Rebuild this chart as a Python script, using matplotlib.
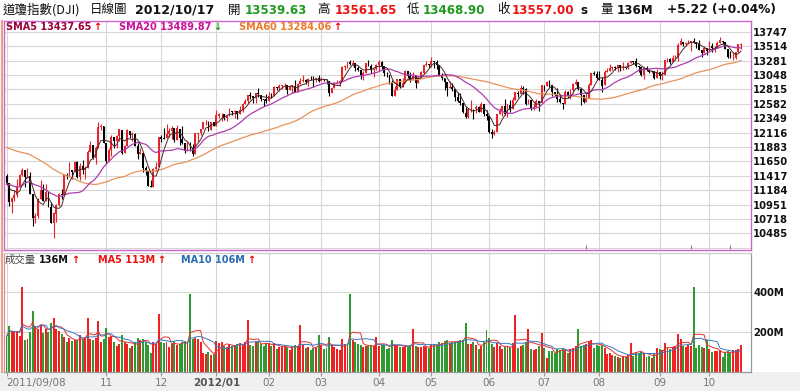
import matplotlib
matplotlib.use("Agg")
import matplotlib.pyplot as plt
import numpy as np
import pandas as pd
from matplotlib.lines import Line2D
from matplotlib.patches import Rectangle

# ---------------- data ----------------
trading_days = {
    "2011-09": [8, 9, 12, 13, 14, 15, 16, 19, 20, 21, 22, 23, 26, 27, 28, 29, 30],
    "2011-10": [3, 4, 5, 6, 7, 10, 11, 12, 13, 14, 17, 18, 19, 20, 21, 24, 25, 26, 27, 28, 31],
    "2011-11": [1, 2, 3, 4, 7, 8, 9, 10, 11, 14, 15, 16, 17, 18, 21, 22, 23, 25, 28, 29, 30],
    "2011-12": [1, 2, 5, 6, 7, 8, 9, 12, 13, 14, 15, 16, 19, 20, 21, 22, 23, 27, 28, 29, 30],
    "2012-01": [3, 4, 5, 6, 9, 10, 11, 12, 13, 17, 18, 19, 20, 23, 24, 25, 26, 27, 30, 31],
    "2012-02": [1, 2, 3, 6, 7, 8, 9, 10, 13, 14, 15, 16, 17, 21, 22, 23, 24, 27, 28, 29],
    "2012-03": [1, 2, 5, 6, 7, 8, 9, 12, 13, 14, 15, 16, 19, 20, 21, 22, 23, 26, 27, 28, 29, 30],
    "2012-04": [2, 3, 4, 5, 9, 10, 11, 12, 13, 16, 17, 18, 19, 20, 23, 24, 25, 26, 27, 30],
    "2012-05": [1, 2, 3, 4, 7, 8, 9, 10, 11, 14, 15, 16, 17, 18, 21, 22, 23, 24, 25, 29, 30, 31],
    "2012-06": [1, 4, 5, 6, 7, 8, 11, 12, 13, 14, 15, 18, 19, 20, 21, 22, 25, 26, 27, 28, 29],
    "2012-07": [2, 3, 5, 6, 9, 10, 11, 12, 13, 16, 17, 18, 19, 20, 23, 24, 25, 26, 27, 30, 31],
    "2012-08": [1, 2, 3, 6, 7, 8, 9, 10, 13, 14, 15, 16, 17, 20, 21, 22, 23, 24, 27, 28, 29, 30, 31],
    "2012-09": [4, 5, 6, 7, 10, 11, 12, 13, 14, 17, 18, 19, 20, 21, 24, 25, 26, 27, 28],
    "2012-10": [1, 2, 3, 4, 5, 8, 9, 10, 11, 12, 15, 16, 17],
}
dates = [f"{ym}-{d:02d}" for ym, days in trading_days.items() for d in days]

# closes of the 62 sessions before the first bar (for the moving averages)
warmup_closes = [
    11951.91, 11952.97, 12076.11, 11897.27, 11961.52, 12004.36, 12080.38, 12190.01, 12109.67, 12050.00,
    11934.58, 12043.56, 12188.69, 12261.42, 12414.34,
    12582.77, 12569.87, 12626.02, 12719.49, 12657.20, 12505.76, 12446.88, 12491.61, 12437.12, 12479.73,
    12385.16, 12587.42, 12571.91, 12724.41, 12681.16, 12592.80, 12501.30, 12302.55, 12240.11, 12143.24,
    12132.49, 11866.62, 11896.44, 11383.68, 11444.61, 10809.85, 11239.77, 10719.94, 11143.31, 11269.02,
    11482.90, 11405.93, 11410.21, 10990.58, 10817.65, 10854.65, 11176.76, 11320.71, 11149.82, 11284.54,
    11539.25, 11559.95, 11613.53,
    11493.57, 11240.26, 11139.30, 11414.86,
]

opens = [
    11414, 11293, 10989, 11061, 11106, 11247, 11433, 11508, 11401, 11408, 11120, 10733, 10771, 11045, 11190, 11011, 11152,
    10912, 10650, 10804, 10939, 11123, 11104, 11432, 11418, 11517, 11479, 11640, 11397, 11576, 11503, 11543, 11808, 11911, 11710, 11872, 12207, 12229,
    11955, 11659, 11838, 12040, 11982, 12068, 12165, 11783, 11897, 12150, 12077, 12094, 11903, 11771, 11792, 11543, 11490, 11257, 11235, 11520, 11559,
    12045, 12021, 12021, 12097, 12148, 12194, 11998, 12181, 12019, 11951, 11826, 11869, 11867, 11769, 12102, 12107, 12170, 12291, 12291, 12151, 12286,
    12221, 12392, 12413, 12415, 12360, 12393, 12459, 12449, 12470, 12422, 12481, 12578, 12623, 12720, 12707, 12674, 12758, 12733, 12660, 12654,
    12632, 12717, 12705, 12860, 12845, 12878, 12884, 12888, 12801, 12874, 12878, 12782, 12904, 12950, 12964, 12937, 12984, 12982, 12982, 13005,
    12952, 12980, 12977, 12958, 12759, 12838, 12908, 12920, 12960, 13178, 13193, 13253, 13233, 13238, 13171, 13124, 13046, 13081, 13241, 13197, 13124, 13146,
    13211, 13263, 13198, 13074, 13057, 12929, 12716, 12806, 12984, 12851, 12922, 13115, 13032, 12966, 13027, 12928, 13002, 13089, 13206, 13228,
    13214, 13279, 13268, 13206, 13038, 13007, 12932, 12835, 12854, 12820, 12694, 12632, 12599, 12441, 12371, 12502, 12500, 12496, 12529, 12456, 12580, 12419,
    12391, 12119, 12101, 12128, 12415, 12461, 12555, 12411, 12571, 12497, 12651, 12765, 12743, 12837, 12824, 12574, 12640, 12502, 12535, 12626, 12603,
    12879, 12871, 12942, 12895, 12772, 12736, 12653, 12604, 12573, 12774, 12727, 12805, 12909, 12941, 12822, 12720, 12616, 12677, 12888, 13075, 13072,
    13009, 12974, 12881, 13096, 13117, 13167, 13175, 13163, 13207, 13170, 13172, 13165, 13251, 13274, 13272, 13203, 13172, 13057, 13158, 13124, 13103, 13107, 13002,
    13092, 13036, 13045, 13292, 13306, 13254, 13323, 13329, 13540, 13591, 13552, 13565, 13575, 13597, 13577, 13559, 13456, 13413, 13486,
    13437, 13516, 13483, 13495, 13569, 13594, 13582, 13473, 13346, 13326, 13329, 13425, 13539.63,
]

highs = [
    11439, 11297, 11078, 11186, 11361, 11443, 11544, 11508, 11545, 11475, 11120, 10820, 11051, 11353, 11289, 11290, 11152,
    10985, 10827, 10964, 11131, 11199, 11433, 11468, 11632, 11518, 11649, 11661, 11624, 11675, 11574, 11834, 11981, 11911, 11892, 12284, 12251, 12229,
    11955, 11861, 12071, 12040, 12080, 12176, 12165, 11918, 12181, 12150, 12122, 12112, 11955, 11865, 11792, 11571, 11490, 11356, 11543, 11637, 12046,
    12070, 12187, 12261, 12188, 12231, 12194, 12237, 12181, 12221, 11951, 11969, 11968, 11928, 12112, 12118, 12180, 12294, 12325, 12304, 12291, 12293,
    12479, 12430, 12434, 12416, 12396, 12517, 12468, 12486, 12470, 12546, 12589, 12657, 12721, 12780, 12708, 12764, 12841, 12733, 12660, 12747,
    12778, 12753, 12876, 12860, 12905, 12891, 12914, 12888, 12882, 12887, 12976, 12922, 13005, 13055, 12979, 12998, 13028, 13027, 13023, 13054,
    13020, 12993, 12984, 12958, 12847, 12942, 12970, 12963, 13194, 13211, 13253, 13289, 13290, 13238, 13198, 13124, 13107, 13241, 13285, 13228, 13155, 13228,
    13297, 13280, 13198, 13097, 13057, 12962, 12867, 12987, 12984, 12996, 13128, 13120, 13091, 13100, 13027, 13039, 13116, 13214, 13269, 13228,
    13338, 13279, 13297, 13206, 13086, 13007, 12932, 12946, 12926, 12820, 12778, 12757, 12602, 12529, 12504, 12637, 12500, 12560, 12541, 12608, 12580, 12489,
    12391, 12170, 12160, 12415, 12515, 12555, 12668, 12574, 12647, 12693, 12767, 12792, 12889, 12876, 12834, 12665, 12640, 12591, 12653, 12626, 12880,
    12884, 12952, 12967, 12895, 12772, 12841, 12717, 12604, 12800, 12784, 12826, 12915, 12984, 12941, 12822, 12721, 12763, 12917, 13075, 13116, 13110,
    13107, 13014, 13139, 13167, 13228, 13193, 13202, 13208, 13207, 13257, 13187, 13265, 13281, 13279, 13330, 13203, 13172, 13185, 13201, 13152, 13135, 13107, 13148,
    13092, 13111, 13294, 13320, 13332, 13370, 13373, 13573, 13653, 13591, 13581, 13618, 13598, 13647, 13582, 13620, 13456, 13522, 13486,
    13597, 13567, 13513, 13595, 13661, 13606, 13582, 13478, 13439, 13421, 13428, 13553, 13561.65,
]

lows = [
    11286, 10933, 10820, 11012, 11072, 11230, 11408, 11242, 11383, 11115, 10597, 10656, 10731, 11045, 11005, 11011, 10903,
    10653, 10404, 10661, 10933, 11041, 11104, 11359, 11418, 11358, 11479, 11387, 11346, 11444, 11362, 11543, 11808, 11686, 11612, 11872, 12154, 11955,
    11627, 11659, 11735, 11866, 11867, 11977, 11767, 11783, 11897, 12024, 11978, 11898, 11689, 11768, 11482, 11422, 11257, 11231, 11235, 11494, 11559,
    11960, 12012, 12021, 12044, 12017, 11966, 11998, 11919, 11929, 11785, 11826, 11825, 11735, 11769, 11969, 12070, 12170, 12245, 12138, 12151, 12217,
    12221, 12346, 12301, 12328, 12310, 12393, 12398, 12355, 12334, 12422, 12456, 12578, 12589, 12658, 12598, 12599, 12696, 12622, 12548, 12599,
    12632, 12681, 12705, 12803, 12786, 12826, 12824, 12745, 12801, 12757, 12771, 12767, 12904, 12930, 12905, 12877, 12962, 12861, 12938, 12935,
    12952, 12949, 12912, 12711, 12759, 12838, 12907, 12878, 12955, 13124, 13169, 13216, 13195, 13118, 13117, 12990, 12974, 13081, 13193, 13086, 13018, 13128,
    13120, 13151, 13041, 13020, 12908, 12710, 12716, 12803, 12842, 12851, 12922, 13008, 12932, 12966, 12835, 12928, 13002, 13065, 13193, 13169,
    13186, 13162, 13155, 13035, 12964, 12802, 12710, 12835, 12788, 12632, 12616, 12569, 12441, 12355, 12360, 12457, 12341, 12428, 12446, 12456, 12384, 12327,
    12107, 12035, 12072, 12128, 12415, 12379, 12396, 12373, 12452, 12494, 12651, 12700, 12743, 12744, 12559, 12574, 12481, 12481, 12535, 12465, 12603,
    12786, 12871, 12856, 12708, 12711, 12617, 12600, 12492, 12573, 12685, 12658, 12753, 12891, 12810, 12568, 12591, 12616, 12677, 12888, 13046, 12993,
    12967, 12778, 12881, 13096, 13117, 13127, 13135, 13104, 13122, 13137, 13140, 13147, 13241, 13222, 13178, 13092, 13036, 12992, 13121, 13078, 13087, 12985, 13002,
    12977, 12976, 13045, 13266, 13231, 13254, 13285, 13282, 13533, 13512, 13517, 13557, 13442, 13562, 13484, 13456, 13343, 13413, 13367,
    13437, 13424, 13421, 13495, 13568, 13550, 13473, 13327, 13326, 13300, 13313, 13425, 13468.90,
]

closes = [
    11295.81, 10992.13, 11061.12, 11105.85, 11246.73, 11433.18, 11509.09, 11401.01, 11408.66, 11124.84, 10733.83, 10771.48, 11043.86, 11190.69, 11010.90, 11153.98, 10913.38,
    10655.30, 10808.71, 10939.95, 11123.33, 11103.12, 11433.18, 11416.30, 11518.85, 11478.13, 11644.49, 11397.00, 11577.05, 11504.62, 11541.78, 11808.79, 11913.62, 11706.62, 11869.04, 12208.55, 12231.11, 11955.01,
    11657.96, 11836.04, 12044.47, 11983.24, 12068.39, 12170.18, 11780.94, 11893.86, 12153.68, 12078.98, 12096.16, 11905.59, 11770.73, 11796.16, 11547.31, 11493.72, 11257.55, 11231.78, 11523.01, 11555.63, 12045.68,
    12020.03, 12019.42, 12097.83, 12150.13, 12196.37, 11997.70, 12184.26, 12021.39, 11954.94, 11823.48, 11868.81, 11866.39, 11766.26, 12103.58, 12107.74, 12169.65, 12294.00, 12291.35, 12151.41, 12287.04, 12217.56,
    12397.38, 12418.42, 12415.70, 12359.92, 12392.69, 12462.47, 12449.45, 12471.02, 12422.06, 12482.07, 12578.95, 12623.98, 12720.48, 12708.82, 12675.75, 12756.96, 12734.63, 12660.46, 12653.72, 12632.91,
    12716.46, 12705.41, 12862.23, 12845.13, 12878.20, 12883.95, 12890.46, 12801.23, 12874.04, 12878.28, 12780.95, 12904.08, 12949.87, 12965.69, 12938.67, 12984.69, 12982.95, 12981.20, 13005.12, 12952.07,
    12980.30, 12977.57, 12962.81, 12759.15, 12837.33, 12907.94, 12922.02, 12959.71, 13177.68, 13194.10, 13252.76, 13232.62, 13239.13, 13170.19, 13124.62, 13046.14, 13080.73, 13241.63, 13197.73, 13126.21, 13145.82, 13212.04,
    13264.49, 13199.55, 13074.75, 13060.14, 12929.59, 12715.93, 12805.39, 12986.58, 12849.59, 12921.41, 13115.54, 13032.75, 12964.10, 13029.26, 12927.17, 13001.56, 13090.72, 13204.62, 13228.31, 13213.63,
    13279.32, 13268.57, 13206.59, 13038.27, 13008.53, 12932.09, 12835.06, 12855.04, 12820.60, 12695.35, 12632.00, 12598.55, 12442.49, 12369.38, 12504.48, 12502.81, 12496.15, 12529.75, 12454.83, 12580.69, 12419.86, 12393.45,
    12118.57, 12101.46, 12127.95, 12414.79, 12460.96, 12554.20, 12411.23, 12573.80, 12496.38, 12651.91, 12767.17, 12741.82, 12837.33, 12824.39, 12573.57, 12640.78, 12502.66, 12534.67, 12627.01, 12602.26, 12880.09,
    12871.39, 12943.82, 12896.67, 12772.47, 12736.29, 12653.12, 12604.53, 12573.27, 12777.09, 12727.21, 12805.54, 12908.70, 12943.36, 12822.57, 12721.46, 12617.32, 12676.05, 12887.93, 13075.66, 13073.01, 13008.68,
    12976.13, 12878.88, 13096.17, 13117.51, 13168.60, 13175.64, 13165.19, 13207.95, 13169.43, 13172.14, 13164.78, 13250.11, 13275.20, 13271.64, 13203.58, 13172.76, 13057.46, 13157.97, 13124.67, 13102.99, 13107.48, 13000.71, 13090.84,
    13035.94, 13047.48, 13292.00, 13306.64, 13254.29, 13323.36, 13333.35, 13539.86, 13593.37, 13553.10, 13564.64, 13577.96, 13596.93, 13579.47, 13558.92, 13457.55, 13413.51, 13485.97, 13437.13,
    13515.11, 13482.36, 13494.61, 13575.36, 13610.15, 13583.65, 13473.53, 13344.97, 13326.39, 13328.85, 13424.23, 13551.78, 13557.00,
]

volumes = [  # millions
    178, 232, 203, 198, 200, 178, 425, 162, 165, 200, 308, 228, 215, 235, 195, 215, 200,
    245, 270, 215, 205, 190, 175, 150, 170, 155, 160, 160, 185, 165, 175, 268, 165, 160, 170, 257, 150, 165,
    220, 175, 180, 150, 130, 140, 185, 150, 140, 120, 130, 150, 170, 160, 165, 150, 135, 95, 150, 140, 292,
    150, 145, 150, 125, 140, 155, 135, 140, 150, 155, 150, 390, 165, 170, 165, 150, 95, 90, 100, 85, 90,
    155, 145, 150, 130, 125, 140, 130, 135, 140, 145, 140, 150, 258, 135, 130, 150, 155, 140, 130, 145,
    145, 130, 145, 115, 125, 125, 135, 125, 110, 125, 135, 130, 237, 135, 120, 125, 110, 120, 125, 187,
    135, 115, 120, 175, 135, 125, 115, 110, 165, 140, 140, 392, 160, 150, 140, 135, 125, 130, 130, 135, 130, 175,
    130, 135, 135, 115, 120, 160, 135, 130, 125, 125, 135, 125, 135, 215, 130, 125, 125, 130, 125, 120,
    140, 135, 135, 150, 145, 155, 160, 145, 150, 150, 155, 160, 160, 245, 140, 140, 150, 135, 115, 130, 150, 208,
    170, 140, 125, 145, 130, 115, 125, 125, 125, 145, 287, 120, 130, 135, 150, 215, 115, 110, 115, 130, 195,
    120, 70, 105, 105, 95, 115, 110, 120, 110, 95, 115, 120, 130, 215, 130, 135, 140, 150, 160, 120, 135,
    130, 135, 120, 90, 95, 85, 80, 75, 70, 80, 75, 85, 145, 80, 100, 95, 100, 95, 75, 80, 70, 90, 120,
    115, 110, 145, 125, 115, 125, 130, 190, 165, 130, 125, 135, 130, 428, 120, 135, 125, 120, 160,
    115, 100, 105, 105, 110, 75, 100, 105, 95, 108, 112, 114, 136,
]

price_ticks = [10485, 10718, 10951, 11184, 11417, 11650, 11883, 12116, 12349, 12582,
               12815, 13048, 13281, 13514, 13747]
price_grid_extra = [10252]
volume_ticks = [200, 400]
sma_legend = [("SMA5 13437.65", "\u2191"), ("SMA20 13489.87", "\u2193"), ("SMA60 13284.06", "\u2191")]
event_idx = [221, 261, 276]
skip_month_labels = ["2011-10"]

N = len(dates)
for name, arr in [("opens", opens), ("highs", highs), ("lows", lows), ("closes", closes), ("volumes", volumes)]:
    if len(arr) != N:
        raise SystemExit(f"{name} has {len(arr)} values, expected {N}")

# ---------------- figure ----------------
W, H = 800, 391
fig = plt.figure(figsize=(W / 100, H / 100), dpi=100)
fig.patch.set_facecolor("white")
fig.patches.append(Rectangle((0, 0), 1, 19 / H, transform=fig.transFigure,
                             facecolor="#f0f0f0", edgecolor="none", zorder=-10))

PX0, DX = 6.5, 2.623          # pixel x of bar 0, pixels per bar
def xi(px):
    return (px - PX0) / DX

L, R = 4, 751
ax = fig.add_axes([L / W, 1 - 250 / H, (R - L) / W, (250 - 21) / H])
axv = fig.add_axes([L / W, 1 - 372 / H, (R - L) / W, (372 - 253) / H])

x = np.arange(N)
o = np.array(opens, float); h = np.array(highs, float)
l = np.array(lows, float); c = np.array(closes, float)
v = np.array(volumes, float)
up = c >= o

RED, BLACK = "#e8232a", "#000000"
VRED, VGREEN = "#ee2222", "#2f9a2f"

ccol = np.where(up, RED, BLACK)
ax.vlines(x, l, h, colors=ccol, lw=0.8, zorder=2)
body_h = np.abs(c - o)
mid = (c + o) / 2
bh = np.maximum(body_h, 9)
ax.bar(x, bh, bottom=mid - bh / 2, width=0.72, color=ccol, linewidth=0, zorder=2.1)

allc = pd.Series(warmup_closes + closes, dtype=float)
sma5 = allc.rolling(5).mean().values[-N:]
sma20 = allc.rolling(20).mean().values[-N:]
sma60 = allc.rolling(60).mean().values[-N:]
ax.plot(x, sma60, color="#e8925a", lw=0.9, zorder=3)
ax.plot(x, sma20, color="#b03cb0", lw=0.9, zorder=3.1)
ax.plot(x, sma5, color="#4a2a2a", lw=0.7, zorder=3.2)

ax.vlines(event_idx, 10228, 10300, colors="#c06090", lw=0.8, zorder=3)

ax.set_xlim(xi(L), xi(R))
ax.set_ylim(10214, 13925)

# volume
vcol = np.where(up, VRED, VGREEN)
axv.bar(x, v, width=0.75, color=vcol, linewidth=0, zorder=2)
vs = pd.Series(v)
axv.plot(x, vs.rolling(5, min_periods=1).mean(), color="#e83030", lw=0.7, zorder=3)
axv.plot(x, vs.rolling(10, min_periods=1).mean(), color="#3a78c0", lw=0.7, zorder=3)
axv.set_xlim(xi(L), xi(R))
axv.set_ylim(0, 596)

# month ticks
month_idx, month_lab = [0], ["/".join(dates[0].split("-"))]
for i in range(1, N):
    ym = dates[i][:7]
    if ym != dates[i - 1][:7] and ym not in skip_month_labels:
        month_idx.append(i)
        yy, mm = ym.split("-")
        month_lab.append(f"{yy}/{mm}" if mm == "01" else mm)

GRID = "#d6d6d6"
for a in (ax, axv):
    a.set_xticks(month_idx)
    a.grid(True, color=GRID, lw=0.8, zorder=0)
    a.set_axisbelow(True)
    a.set_facecolor("white")

ax.tick_params(axis="x", length=0, labelbottom=False)
ax.yaxis.tick_right()
ax.set_yticks(price_grid_extra + price_ticks)
ax.set_yticklabels([""] * len(price_grid_extra) + [str(t) for t in price_ticks])
ax.tick_params(axis="y", length=0, pad=1.5, labelsize=7.2, labelcolor="#111111")
for t in ax.get_yticklabels():
    t.set_fontweight("bold")

axv.yaxis.tick_right()
axv.set_yticks(volume_ticks)
axv.set_yticklabels([f"{t}M" for t in volume_ticks])
axv.tick_params(axis="y", length=0, pad=1.5, labelsize=7.2, labelcolor="#111111")
for t in axv.get_yticklabels():
    t.set_fontweight("bold")

axv.set_xticklabels(month_lab)
axv.tick_params(axis="x", length=3, color="#999999", width=0.8, labelsize=7.5,
                labelcolor="#777777", pad=1.5)
for i, t in enumerate(axv.get_xticklabels()):
    if i == 0:
        t.set_horizontalalignment("left")
    if month_lab[i].startswith("20") and i > 0:
        t.set_fontweight("bold")
        t.set_color("#555555")

MAG = "#cc66cc"
for s in ax.spines.values():
    s.set_color(MAG); s.set_linewidth(1.0)
axv.spines["top"].set_color("#cccccc")
axv.spines["right"].set_color("#999999")
axv.spines["bottom"].set_color("#999999")
axv.spines["left"].set_color("#e09090")
for s in axv.spines.values():
    s.set_linewidth(0.9)

fig.add_artist(Line2D([1.5 / W, 1.5 / W], [1 - 21 / H, 1 - 372 / H], transform=fig.transFigure,
                      color="#e8a090", lw=1.6))

# ---------------- texts ----------------
CJK = ["Noto Sans CJK TC", "DejaVu Sans"]
LAT = ["DejaVu Sans", "Noto Sans CJK TC"]

def t(xp, yp, s, color="#111111", size=9, weight="normal", fam=LAT):
    return fig.text(xp / W, 1 - yp / H, s, color=color, fontsize=size, fontweight=weight,
                    family=fam, ha="left", va="center")

renderer = fig.canvas.get_renderer()
def after(txt, yp, s, color, size, gap=2.0):
    bb = txt.get_window_extent(renderer=renderer)
    return t(bb.x1 + gap, yp, s, color=color, size=size, weight="bold")

GREEN_T, RED_T = "#1f9a1f", "#ee1111"
hy = 10
chg = closes[-1] - closes[-2]
pct = chg / closes[-2] * 100
t(3, hy, "道瓊指數(DJI)", size=9, fam=CJK)
t(90, hy, "日線圖", size=9, fam=CJK)
t(135, hy, "/".join(dates[-1].split("-")), size=9, weight="bold")
t(228, hy, "開", size=9, fam=CJK)
t(245, hy, f"{opens[-1]:.2f}", color=GREEN_T, size=8.6, weight="bold")
t(317, hy, "高", size=9, fam=CJK)
t(335, hy, f"{highs[-1]:.2f}", color=RED_T, size=8.6, weight="bold")
t(407, hy, "低", size=9, fam=CJK)
t(423, hy, f"{lows[-1]:.2f}", color=GREEN_T, size=8.6, weight="bold")
t(497, hy, "收", size=9, fam=CJK)
t(512, hy, f"{closes[-1]:.2f}", color=RED_T, size=8.6, weight="bold")
t(580, hy, "s", size=8.6, weight="bold")
t(600, hy, "量", size=9, fam=CJK)
t(617, hy, f"{volumes[-1]}M", size=8.6, weight="bold")
t(667, hy, f"{chg:+.2f} ({pct:+.2f}%)", size=8.8, weight="bold")

ly = 26.5
leg_x = [6, 119, 239]
leg_col = ["#990033", "#cc1199", "#ee7a2a"]
arr_col = {"\u2191": "#ee0000", "\u2193": "#119911"}
for (s, arr), xp, col in zip(sma_legend, leg_x, leg_col):
    tt = t(xp, ly, s, color=col, size=7, weight="bold")
    after(tt, ly, arr, arr_col[arr], 7)

vy = 260
vma5 = np.mean(volumes[-5:]); vma10 = np.mean(volumes[-10:])
t(5, vy, "成交量", color="#444444", size=7.5, fam=CJK)
a1 = t(39, vy, f"{volumes[-1]}M", color="#111111", size=7, weight="bold")
after(a1, vy, "\u2191", "#ee0000", 7)
a2 = t(98, vy, f"MA5 {vma5:.0f}M", color="#ee1111", size=7, weight="bold")
after(a2, vy, "\u2191", "#ee0000", 7)
a3 = t(181, vy, f"MA10 {vma10:.0f}M", color="#2a6db5", size=7, weight="bold")
after(a3, vy, "\u2191", "#ee0000", 7)

fig.savefig("out.png", dpi=100, facecolor=fig.get_facecolor())
